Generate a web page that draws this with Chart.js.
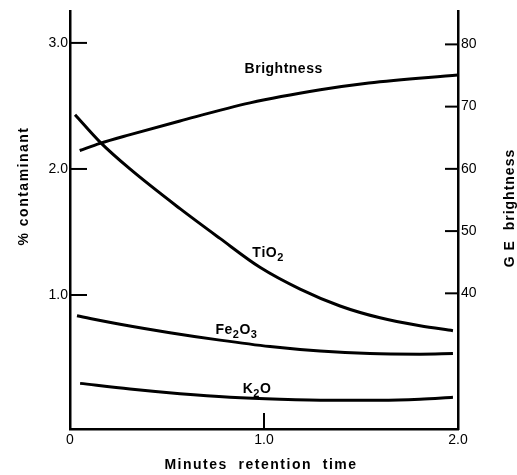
<!DOCTYPE html>
<html>
<head>
<meta charset="utf-8">
<script src="https://cdn.jsdelivr.net/npm/chart.js@4.4.1/dist/chart.umd.min.js"></script>
<style>
  html, body { margin: 0; padding: 0; background: #fff; }
  #wrap { width: 517px; height: 475px; position: relative; }
</style>
</head>
<body>
<div id="wrap"><canvas id="c"></canvas></div>
<script>
// ── data: minutes retention time vs value ──
const tio2X   = [0.026, 0.155, 0.309, 0.567, 0.773, 0.979, 1.186, 1.392, 1.598, 1.804, 1.974];
const tio2Y   = [2.43, 2.213, 2.0, 1.685, 1.449, 1.22, 1.047, 0.913, 0.819, 0.756, 0.717];
const fe2o3X  = [0.036, 0.258, 0.515, 0.773, 1.031, 1.289, 1.546, 1.804, 1.974];
const fe2o3Y  = [0.835, 0.768, 0.701, 0.642, 0.591, 0.555, 0.535, 0.531, 0.535];
const k2oX    = [0.052, 0.309, 0.567, 0.825, 1.082, 1.34, 1.598, 1.804, 1.974];
const k2oY    = [0.299, 0.254, 0.217, 0.189, 0.173, 0.165, 0.165, 0.173, 0.189];
const brightX = [0.05, 0.155, 0.31, 0.567, 0.928, 1.29, 1.54, 2.0];
const brightY = [62.95, 64.1, 65.5, 67.7, 70.6, 72.7, 73.8, 75.1];

const xTicks     = [0, 1, 2];
const leftTicks  = [1, 2, 3];
const rightTicks = [40, 50, 60, 70, 80];

const FONT = "'Liberation Sans', Arial, sans-serif";

function pts(xs, ys) { return xs.map((x, i) => ({ x, y: ys[i] })); }

function makeDS(data, axis) {
  return {
    data, yAxisID: axis,
    borderColor: "#000", borderWidth: 3,
    pointRadius: 0, fill: false,
    cubicInterpolationMode: "monotone"
  };
}

// curve labels, anchored in data units (left edge, baseline); "_" = subscript next char
const curveLabels = [
  { text: "Brightness", x: 0.90, y: 2.76 },
  { text: "TiO_2",      x: 0.94, y: 1.30 },
  { text: "Fe_2O_3",    x: 0.75, y: 0.69 },
  { text: "K_2O",       x: 0.89, y: 0.22 }
];

function drawSubText(ctx, str, x, y) {
  let cx = x;
  for (let i = 0; i < str.length; i++) {
    let ch = str[i], sub = false;
    if (ch === "_") { ch = str[++i]; sub = true; }
    ctx.font = sub ? `bold 11px ${FONT}` : `bold 14px ${FONT}`;
    ctx.fillText(ch, cx, sub ? y + 4 : y);
    cx += ctx.measureText(ch).width + 0.5;
  }
}

function line(ctx, x1, y1, x2, y2) {
  ctx.beginPath(); ctx.moveTo(x1, y1); ctx.lineTo(x2, y2); ctx.stroke();
}

const decor = {
  id: "decor",
  afterDatasetsDraw(chart) {
    const { ctx, chartArea: a, scales } = chart;
    ctx.save();
    ctx.strokeStyle = "#000";
    ctx.lineWidth = 2;
    leftTicks.forEach(v => {
      const y = scales.y.getPixelForValue(v);
      line(ctx, a.left, y, a.left + 17, y);
    });
    rightTicks.forEach(v => {
      const y = scales.y2.getPixelForValue(v);
      line(ctx, a.right, y, a.right - 13, y);
    });
    const mx = scales.x.getPixelForValue(1);
    line(ctx, mx, a.bottom, mx, a.bottom - 16);

    ctx.fillStyle = "#000";
    ctx.textBaseline = "alphabetic";
    ctx.textAlign = "left";
    curveLabels.forEach(l => {
      drawSubText(ctx, l.text, scales.x.getPixelForValue(l.x), scales.y.getPixelForValue(l.y));
    });

    // axis titles
    ctx.font = `bold 14px ${FONT}`;
    ctx.textAlign = "center";
    ctx.letterSpacing = "1.5px";
    ctx.textBaseline = "middle";
    ctx.fillText("Minutes  retention  time", 261, 465);

    ctx.textBaseline = "alphabetic";
    ctx.save();
    ctx.translate(28, 186);
    ctx.rotate(-Math.PI / 2);
    ctx.fillText("% contaminant", 0, 0);
    ctx.restore();

    ctx.letterSpacing = "1px";
    ctx.save();
    ctx.translate(514, 208);
    ctx.rotate(-Math.PI / 2);
    ctx.fillText("G E  brightness", 0, 0);
    ctx.restore();
    ctx.restore();
  }
};

const tickFont = { family: FONT, size: 14 };
const noGrid = { display: false, drawTicks: false };
const axisBorder = { color: "#000", width: 2.5 };

new Chart(document.getElementById("c"), {
  type: "line",
  data: {
    datasets: [
      makeDS(pts(tio2X, tio2Y), "y"),
      makeDS(pts(fe2o3X, fe2o3Y), "y"),
      makeDS(pts(k2oX, k2oY), "y"),
      makeDS(pts(brightX, brightY), "y2")
    ]
  },
  options: {
    responsive: true,
    maintainAspectRatio: false,
    animation: false,
    layout: { padding: { top: 8, left: 0, right: 0, bottom: 0 } },
    plugins: { legend: { display: false }, tooltip: { enabled: false } },
    scales: {
      x: {
        type: "linear", min: 0, max: 2, position: "bottom",
        afterBuildTicks: s => { s.ticks = xTicks.map(v => ({ value: v })); },
        afterFit: s => { s.height = 46; },
        ticks: { callback: v => v === 0 ? "0" : v.toFixed(1), padding: 3, color: "#000", font: tickFont, maxRotation: 0 },
        grid: noGrid, border: axisBorder
      },
      y: {
        min: -0.063, max: 3.25, position: "left",
        afterBuildTicks: s => { s.ticks = leftTicks.map(v => ({ value: v })); },
        afterFit: s => { s.width = 70; },
        ticks: { callback: v => v.toFixed(1), padding: 2, color: "#000", font: tickFont },
        grid: noGrid, border: axisBorder
      },
      y2: {
        min: 18.2, max: 85.3, position: "right",
        afterBuildTicks: s => { s.ticks = rightTicks.map(v => ({ value: v })); },
        afterFit: s => { s.width = 59; },
        ticks: { padding: 3, color: "#000", font: tickFont },
        grid: noGrid, border: axisBorder
      }
    }
  },
  plugins: [decor]
});
</script>
</body>
</html>
